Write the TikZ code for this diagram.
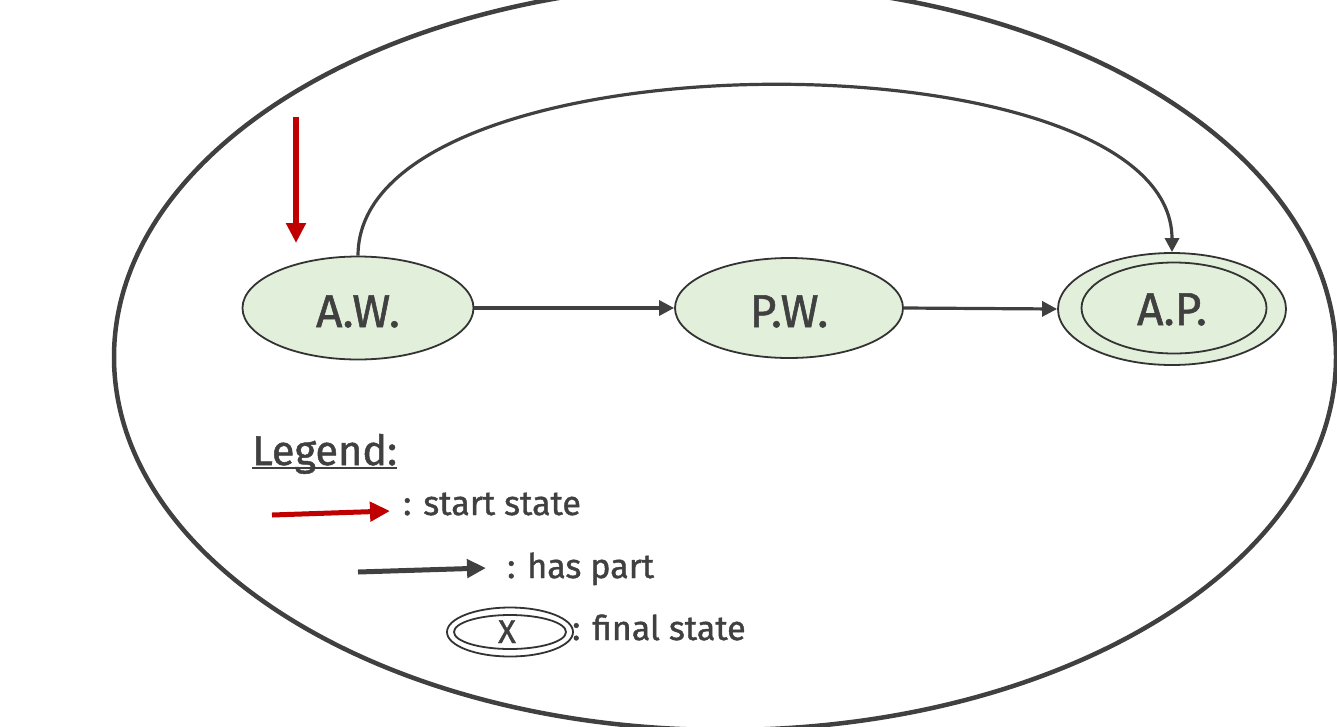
\documentclass[tikz,border=0pt]{standalone}
\usepackage{fontspec}
\setmainfont{Fira Sans}[FakeBold=1.2]
\usetikzlibrary{arrows.meta,shapes.geometric}
\definecolor{dk}{HTML}{404040}
\definecolor{nodeline}{HTML}{333333}
\definecolor{nodefill}{HTML}{E2EFDA}
\definecolor{startred}{HTML}{C00000}
\begin{document}
\begin{tikzpicture}[x=1pt,y=-1pt,
  statenode/.style={ellipse, draw=nodeline, line width=1.8pt, fill=nodefill, text=dk,
    font=\fontsize{46}{54}\selectfont, inner sep=0pt},
  innerring/.style={ellipse, draw=nodeline, line width=1.8pt, inner sep=0pt},
  haspart/.style={draw=dk, line width=3.2pt, -{Triangle[length=15pt,width=15pt]}},
  startarr/.style={draw=startred, line width=6pt, -{Triangle[length=20pt,width=19pt]}},
  legarr/.style={draw=dk, line width=5pt, -{Triangle[length=19pt,width=18pt]}},
  legtext/.style={anchor=base west, inner sep=0pt, text=dk, font=\fontsize{34}{40}\selectfont},
]
\clip (0,0) rectangle (1337,726);
% outer frame
\draw[dk, line width=4.5pt] (725,357) ellipse [x radius=611pt, y radius=373pt];

% states
\node[statenode, minimum width=231pt, minimum height=103pt] (aw) at (358,308) {};
\node[text=dk, font=\fontsize{46}{54}\selectfont, inner sep=0pt, anchor=base] (awtext) at (358,327) {A.W.};
\node[statenode, minimum width=228pt, minimum height=100pt] (pw) at (789,308) {};
\node[text=dk, font=\fontsize{46}{54}\selectfont, inner sep=0pt, anchor=base] (pwtext) at (789,327) {P.W.};
\node[statenode, minimum width=228pt, minimum height=112pt] (ap) at (1172,309) {};
\node[innerring, minimum width=185pt, minimum height=91pt] (apin) at (1174,308) {};
\node[text=dk, font=\fontsize{46}{54}\selectfont, inner sep=0pt, anchor=base] (aptext) at (1172,325) {A.P.};

% start arrow
\coordinate (st0) at (296,117);
\coordinate (st1) at (296,243);
\draw[startarr] (st0) -- (st1);

% has-part connectors
\draw[haspart] (aw.east) -- (pw.west);
\draw[haspart] (pw.east) -- (ap.west);
\draw[haspart, -{Triangle[length=14pt,width=14pt]}] (aw.north) .. controls (358,30) and (1172,30) .. (ap.north);

% legend
\node[anchor=base west, inner sep=0pt, text=dk, font=\fontsize{41.5}{48}\selectfont] (leg) at (252,465) {Legend:};
\draw[dk, line width=2.2pt] ([yshift=-3pt]leg.base west) -- ([yshift=-3pt]leg.base east);

\coordinate (lr0) at (272,515);
\coordinate (lr1) at (390,511);
\draw[startarr, line width=5pt] (lr0) -- (lr1);
\node[legtext] (lt1) at (403,515) {: start state};

\coordinate (ld0) at (358,572);
\coordinate (ld1) at (486,568);
\draw[legarr] (ld0) -- (ld1);
\node[legtext] (lt2) at (507,578) {: has part};

\node[ellipse, draw=nodeline, line width=1.8pt, minimum width=126pt, minimum height=49pt, inner sep=0pt] (fo) at (510,632) {};
\node[ellipse, draw=nodeline, line width=1.8pt, minimum width=112pt, minimum height=34pt, inner sep=0pt] (fi) at (510,632) {};
\node[anchor=base, inner sep=0pt, text=dk, font=\fontsize{33}{40}\selectfont] (fx) at (507,643) {X};
\node[legtext] (lt3) at (572,640) {: final state};
\end{tikzpicture}
\end{document}
